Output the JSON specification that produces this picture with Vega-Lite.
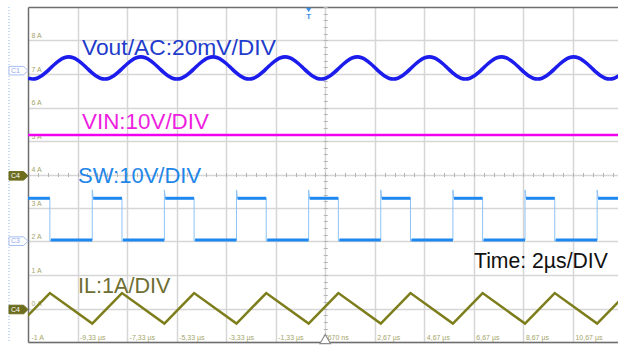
{
  "$schema": "https://vega.github.io/schema/vega-lite/v6.json",
  "width": 590,
  "height": 335,
  "autosize": "none",
  "padding": {"left": 28, "top": 7, "right": 0, "bottom": 3},
  "background": "#ffffff",
  "config": {"view": {"stroke": null}, "font": "Liberation Sans", "axis": {"title": null}},
  "datasets": {
    "vout": [
      {"t": -11.324, "v": 6.875}, {"t": -11.142, "v": 6.85}, {"t": -10.96, "v": 6.875}, {"t": -10.778, "v": 6.947},
      {"t": -10.596, "v": 7.054}, {"t": -10.414, "v": 7.18}, {"t": -10.232, "v": 7.306}, {"t": -10.05, "v": 7.413},
      {"t": -9.868, "v": 7.485}, {"t": -9.686, "v": 7.51}, {"t": -9.504, "v": 7.485}, {"t": -9.322, "v": 7.413},
      {"t": -9.14, "v": 7.306}, {"t": -8.958, "v": 7.18}, {"t": -8.776, "v": 7.054}, {"t": -8.594, "v": 6.947},
      {"t": -8.412, "v": 6.875}, {"t": -8.23, "v": 6.85}, {"t": -8.048, "v": 6.875}, {"t": -7.866, "v": 6.947},
      {"t": -7.684, "v": 7.054}, {"t": -7.502, "v": 7.18}, {"t": -7.32, "v": 7.306}, {"t": -7.138, "v": 7.413},
      {"t": -6.956, "v": 7.485}, {"t": -6.774, "v": 7.51}, {"t": -6.592, "v": 7.485}, {"t": -6.41, "v": 7.413},
      {"t": -6.228, "v": 7.306}, {"t": -6.046, "v": 7.18}, {"t": -5.864, "v": 7.054}, {"t": -5.682, "v": 6.947},
      {"t": -5.5, "v": 6.875}, {"t": -5.318, "v": 6.85}, {"t": -5.136, "v": 6.875}, {"t": -4.954, "v": 6.947},
      {"t": -4.772, "v": 7.054}, {"t": -4.59, "v": 7.18}, {"t": -4.408, "v": 7.306}, {"t": -4.226, "v": 7.413},
      {"t": -4.044, "v": 7.485}, {"t": -3.862, "v": 7.51}, {"t": -3.68, "v": 7.485}, {"t": -3.498, "v": 7.413},
      {"t": -3.316, "v": 7.306}, {"t": -3.134, "v": 7.18}, {"t": -2.952, "v": 7.054}, {"t": -2.77, "v": 6.947},
      {"t": -2.588, "v": 6.875}, {"t": -2.406, "v": 6.85}, {"t": -2.224, "v": 6.875}, {"t": -2.042, "v": 6.947},
      {"t": -1.86, "v": 7.054}, {"t": -1.678, "v": 7.18}, {"t": -1.496, "v": 7.306}, {"t": -1.314, "v": 7.413},
      {"t": -1.132, "v": 7.485}, {"t": -0.95, "v": 7.51}, {"t": -0.768, "v": 7.485}, {"t": -0.586, "v": 7.413},
      {"t": -0.404, "v": 7.306}, {"t": -0.222, "v": 7.18}, {"t": -0.04, "v": 7.054}, {"t": 0.142, "v": 6.947},
      {"t": 0.324, "v": 6.875}, {"t": 0.506, "v": 6.85}, {"t": 0.688, "v": 6.875}, {"t": 0.87, "v": 6.947},
      {"t": 1.052, "v": 7.054}, {"t": 1.234, "v": 7.18}, {"t": 1.416, "v": 7.306}, {"t": 1.598, "v": 7.413},
      {"t": 1.78, "v": 7.485}, {"t": 1.962, "v": 7.51}, {"t": 2.144, "v": 7.485}, {"t": 2.326, "v": 7.413},
      {"t": 2.508, "v": 7.306}, {"t": 2.69, "v": 7.18}, {"t": 2.872, "v": 7.054}, {"t": 3.054, "v": 6.947},
      {"t": 3.236, "v": 6.875}, {"t": 3.418, "v": 6.85}, {"t": 3.6, "v": 6.875}, {"t": 3.782, "v": 6.947},
      {"t": 3.964, "v": 7.054}, {"t": 4.146, "v": 7.18}, {"t": 4.328, "v": 7.306}, {"t": 4.51, "v": 7.413},
      {"t": 4.692, "v": 7.485}, {"t": 4.874, "v": 7.51}, {"t": 5.056, "v": 7.485}, {"t": 5.238, "v": 7.413},
      {"t": 5.42, "v": 7.306}, {"t": 5.602, "v": 7.18}, {"t": 5.784, "v": 7.054}, {"t": 5.966, "v": 6.947},
      {"t": 6.148, "v": 6.875}, {"t": 6.33, "v": 6.85}, {"t": 6.512, "v": 6.875}, {"t": 6.694, "v": 6.947},
      {"t": 6.876, "v": 7.054}, {"t": 7.058, "v": 7.18}, {"t": 7.24, "v": 7.306}, {"t": 7.422, "v": 7.413},
      {"t": 7.604, "v": 7.485}, {"t": 7.786, "v": 7.51}, {"t": 7.968, "v": 7.485}, {"t": 8.15, "v": 7.413},
      {"t": 8.332, "v": 7.306}, {"t": 8.514, "v": 7.18}, {"t": 8.696, "v": 7.054}, {"t": 8.878, "v": 6.947},
      {"t": 9.06, "v": 6.875}, {"t": 9.242, "v": 6.85}, {"t": 9.424, "v": 6.875}, {"t": 9.606, "v": 6.947},
      {"t": 9.788, "v": 7.054}, {"t": 9.97, "v": 7.18}, {"t": 10.152, "v": 7.306}, {"t": 10.334, "v": 7.413},
      {"t": 10.516, "v": 7.485}, {"t": 10.698, "v": 7.51}, {"t": 10.88, "v": 7.485}, {"t": 11.062, "v": 7.413},
      {"t": 11.244, "v": 7.306}, {"t": 11.426, "v": 7.18}, {"t": 11.608, "v": 7.054}, {"t": 11.79, "v": 6.947},
      {"t": 11.972, "v": 6.875}, {"t": 12.154, "v": 6.85}, {"t": 12.336, "v": 6.875}, {"t": 12.518, "v": 6.947}
    ],
    "vin": [
      {"t": -11.33, "v": 5.18}, {"t": 12.49, "v": 5.18}
    ],
    "il": [
      {"t": -11.648, "v": -0.45}, {"t": -10.448, "v": 0.46}, {"t": -8.736, "v": -0.45}, {"t": -7.536, "v": 0.46},
      {"t": -5.824, "v": -0.45}, {"t": -4.624, "v": 0.46}, {"t": -2.912, "v": -0.45}, {"t": -1.712, "v": 0.46},
      {"t": 0, "v": -0.45}, {"t": 1.2, "v": 0.46}, {"t": 2.912, "v": -0.45}, {"t": 4.112, "v": 0.46},
      {"t": 5.824, "v": -0.45}, {"t": 7.024, "v": 0.46}, {"t": 8.736, "v": -0.45}, {"t": 9.936, "v": 0.46},
      {"t": 11.648, "v": -0.45}, {"t": 12.848, "v": 0.46}
    ],
    "sw_edges": [
      {"t": -11.648, "v": 2.045}, {"t": -11.648, "v": 3.54}, {"t": -11.608, "v": 3.29}, {"t": -10.448, "v": 3.29},
      {"t": -10.448, "v": 2.0}, {"t": -10.408, "v": 2.045}, {"t": -8.736, "v": 2.045}, {"t": -8.736, "v": 3.54},
      {"t": -8.696, "v": 3.29}, {"t": -7.536, "v": 3.29}, {"t": -7.536, "v": 2.0}, {"t": -7.496, "v": 2.045},
      {"t": -5.824, "v": 2.045}, {"t": -5.824, "v": 3.54}, {"t": -5.784, "v": 3.29}, {"t": -4.624, "v": 3.29},
      {"t": -4.624, "v": 2.0}, {"t": -4.584, "v": 2.045}, {"t": -2.912, "v": 2.045}, {"t": -2.912, "v": 3.54},
      {"t": -2.872, "v": 3.29}, {"t": -1.712, "v": 3.29}, {"t": -1.712, "v": 2.0}, {"t": -1.672, "v": 2.045},
      {"t": 0, "v": 2.045}, {"t": 0, "v": 3.54}, {"t": 0.04, "v": 3.29}, {"t": 1.2, "v": 3.29},
      {"t": 1.2, "v": 2.0}, {"t": 1.24, "v": 2.045}, {"t": 2.912, "v": 2.045}, {"t": 2.912, "v": 3.54},
      {"t": 2.952, "v": 3.29}, {"t": 4.112, "v": 3.29}, {"t": 4.112, "v": 2.0}, {"t": 4.152, "v": 2.045},
      {"t": 5.824, "v": 2.045}, {"t": 5.824, "v": 3.54}, {"t": 5.864, "v": 3.29}, {"t": 7.024, "v": 3.29},
      {"t": 7.024, "v": 2.0}, {"t": 7.064, "v": 2.045}, {"t": 8.736, "v": 2.045}, {"t": 8.736, "v": 3.54},
      {"t": 8.776, "v": 3.29}, {"t": 9.936, "v": 3.29}, {"t": 9.936, "v": 2.0}, {"t": 9.976, "v": 2.045},
      {"t": 11.648, "v": 2.045}, {"t": 11.648, "v": 3.54}, {"t": 11.688, "v": 3.29}, {"t": 12.848, "v": 3.29}
    ],
    "sw_levels": [
      {"t0": -11.608, "t1": -10.448, "v": 3.29}, {"t0": -8.696, "t1": -7.536, "v": 3.29},
      {"t0": -5.784, "t1": -4.624, "v": 3.29}, {"t0": -2.872, "t1": -1.712, "v": 3.29},
      {"t0": 0.04, "t1": 1.2, "v": 3.29}, {"t0": 2.952, "t1": 4.112, "v": 3.29},
      {"t0": 5.864, "t1": 7.024, "v": 3.29}, {"t0": 8.776, "t1": 9.936, "v": 3.29},
      {"t0": 11.688, "t1": 12.848, "v": 3.29},
      {"t0": -10.408, "t1": -8.736, "v": 2.045}, {"t0": -7.496, "t1": -5.824, "v": 2.045},
      {"t0": -4.584, "t1": -2.912, "v": 2.045}, {"t0": -1.672, "t1": 0, "v": 2.045},
      {"t0": 1.24, "t1": 2.912, "v": 2.045}, {"t0": 4.152, "t1": 5.824, "v": 2.045},
      {"t0": 7.064, "t1": 8.736, "v": 2.045}, {"t0": 9.976, "t1": 11.648, "v": 2.045}
    ],
    "labels": [
      {"series": "Vout", "label": "Vout/AC:20mV/DIV", "t": -9.15, "v": 7.567},
      {"series": "VIN", "label": "VIN:10V/DIV", "t": -9.15, "v": 5.358},
      {"series": "SW", "label": "SW:10V/DIV", "t": -9.31, "v": 3.746},
      {"series": "IL", "label": "IL:1A/DIV", "t": -9.31, "v": 0.463},
      {"series": "Time", "label": "Time: 2µs/DIV", "t": 6.676, "v": 1.209}
    ],
    "channels": [
      {"ch": "C1", "t": -11.714, "v": 7.1},
      {"ch": "C4", "t": -11.714, "v": 3.96},
      {"ch": "C3", "t": -11.714, "v": 2.01},
      {"ch": "C4", "t": -11.714, "v": -0.03}
    ],
    "trigger": [
      {"t": 0, "v": 8.91, "label": "T", "tv": 8.7}
    ],
    "hpos": [
      {"t": 0.67, "v": -0.91}
    ],
    "probe": [
      {"t": -12.097}
    ]
  },
  "resolve": {"axis": {"x": "independent", "y": "independent"}},
  "layer": [
    {
      "data": {"name": "vout"},
      "mark": {"type": "line", "color": "#1c1cec", "strokeWidth": 3.6, "clip": true, "interpolate": "monotone"},
      "encoding": {
        "x": {
          "field": "t", "type": "quantitative",
          "scale": {"domain": [-11.33, 12.49], "nice": false, "zero": false},
          "axis": {
            "orient": "bottom",
            "values": [-9.33, -7.33, -5.33, -3.33, -1.33, 0.67, 2.67, 4.67, 6.67, 8.67, 10.67],
            "grid": true, "gridColor": "#d6d6d6", "gridWidth": 1.5,
            "domain": true, "domainColor": "#6e6e6e", "domainWidth": 1.5,
            "ticks": false, "tickSize": 0,
            "labelExpr": "datum.value == 0.67 ? '670 ns' : replace(replace(format(datum.value, '.2f'), '.', ','), '−', '-') + ' µs'",
            "labelAlign": "left", "labelBaseline": "bottom", "labelPadding": -2, "labelOffset": 2,
            "labelFontSize": 7, "labelColor": "#a5a56a", "labelFlush": false, "labelOverlap": false
          }
        },
        "y": {
          "field": "v", "type": "quantitative",
          "scale": {"domain": [-1, 9], "nice": false, "zero": false},
          "axis": {
            "orient": "left",
            "values": [-1, 0, 1, 2, 3, 4, 5, 6, 7, 8],
            "grid": true, "gridColor": "#d6d6d6", "gridWidth": 1.5,
            "domain": true, "domainColor": "#6e6e6e", "domainWidth": 1.5,
            "ticks": false, "tickSize": 0,
            "labelExpr": "datum.value + ' A'",
            "labelAlign": "left", "labelBaseline": "bottom", "labelPadding": -3, "labelOffset": -2,
            "labelFontSize": 7, "labelColor": "#a5a56a", "labelFlush": false, "labelOverlap": false
          }
        }
      }
    },
    {
      "data": {"name": "vin"},
      "mark": {"type": "line", "color": "#f000ee", "strokeWidth": 2.5, "clip": true},
      "encoding": {
        "x": {
          "field": "t", "type": "quantitative",
          "scale": {"domain": [-11.33, 12.49], "nice": false, "zero": false},
          "axis": {"orient": "top", "domain": true, "domainColor": "#6e6e6e", "domainWidth": 1.5, "ticks": false, "labels": false, "grid": false}
        },
        "y": {"field": "v", "type": "quantitative", "scale": {"domain": [-1, 9], "nice": false, "zero": false}, "axis": null}
      }
    },
    {
      "data": {"name": "il"},
      "mark": {"type": "line", "color": "#7d7d1c", "strokeWidth": 2.5, "clip": true},
      "encoding": {
        "x": {
          "field": "t", "type": "quantitative",
          "scale": {"domain": [-11.33, 12.49], "nice": false, "zero": false},
          "axis": {
            "orient": "top", "offset": -169.5,
            "values": [-10.93, -10.53, -10.13, -9.73, -9.33, -8.93, -8.53, -8.13, -7.73, -7.33, -6.93, -6.53, -6.13, -5.73, -5.33, -4.93, -4.53, -4.13, -3.73, -3.33, -2.93, -2.53, -2.13, -1.73, -1.33, -0.93, -0.53, -0.13, 0.27, 0.67, 1.07, 1.47, 1.87, 2.27, 2.67, 3.07, 3.47, 3.87, 4.27, 4.67, 5.07, 5.47, 5.87, 6.27, 6.67, 7.07, 7.47, 7.87, 8.27, 8.67, 9.07, 9.47, 9.87, 10.27, 10.67, 11.07, 11.47, 11.87, 12.27],
            "ticks": true, "tickSize": 4, "tickColor": "#b4b4b4", "tickWidth": 1,
            "domain": false, "labels": false, "grid": false
          }
        },
        "y": {
          "field": "v", "type": "quantitative",
          "scale": {"domain": [-1, 9], "nice": false, "zero": false},
          "axis": {
            "orient": "right", "offset": -294.76, "tickCount": 50,
            "ticks": true, "tickSize": 4, "tickColor": "#b4b4b4", "tickWidth": 1,
            "domain": false, "labels": false, "grid": false
          }
        }
      }
    },
    {
      "data": {"name": "sw_edges"},
      "mark": {"type": "line", "color": "#8ec3f5", "strokeWidth": 1, "clip": true},
      "encoding": {
        "x": {"field": "t", "type": "quantitative", "scale": {"domain": [-11.33, 12.49], "nice": false, "zero": false}, "axis": null},
        "y": {"field": "v", "type": "quantitative", "scale": {"domain": [-1, 9], "nice": false, "zero": false}, "axis": null},
        "order": {"value": null}
      }
    },
    {
      "data": {"name": "sw_levels"},
      "mark": {"type": "rule", "color": "#1e88f0", "strokeWidth": 3, "clip": true},
      "encoding": {
        "x": {"field": "t0", "type": "quantitative", "scale": {"domain": [-11.33, 12.49], "nice": false, "zero": false}, "axis": null},
        "x2": {"field": "t1"},
        "y": {"field": "v", "type": "quantitative", "scale": {"domain": [-1, 9], "nice": false, "zero": false}, "axis": null}
      }
    },
    {
      "data": {"name": "labels"},
      "mark": {"type": "text", "align": "left", "baseline": "alphabetic"},
      "encoding": {
        "x": {"field": "t", "type": "quantitative", "scale": {"domain": [-11.33, 12.49], "nice": false, "zero": false}, "axis": null},
        "y": {"field": "v", "type": "quantitative", "scale": {"domain": [-1, 9], "nice": false, "zero": false}, "axis": null},
        "text": {"field": "label"},
        "size": {
          "field": "series", "type": "nominal", "legend": null,
          "scale": {"domain": ["Vout", "VIN", "SW", "IL", "Time"], "range": [22.8, 21.2, 21, 21, 21]}
        },
        "color": {
          "field": "series", "type": "nominal", "legend": null,
          "scale": {"domain": ["Vout", "VIN", "SW", "IL", "Time"], "range": ["#1f3ccc", "#ee1ee0", "#1f86e8", "#6e6e33", "#111111"]}
        }
      }
    },
    {
      "data": {"name": "probe"},
      "mark": {"type": "rule", "color": "#8fb6ea", "strokeDash": [1, 2], "strokeWidth": 1, "clip": false},
      "encoding": {
        "x": {"field": "t", "type": "quantitative", "scale": {"domain": [-11.33, 12.49], "nice": false, "zero": false}, "axis": null}
      }
    },
    {
      "data": {"name": "channels"},
      "transform": [{"filter": "datum.ch != 'C4'"}],
      "mark": {"type": "point", "shape": "M-1,-0.45 L0.55,-0.45 L1,0 L0.55,0.45 L-1,0.45 Z", "size": 361, "filled": true, "fill": "#ffffff", "stroke": "#a6bcf0", "strokeWidth": 1, "opacity": 1, "clip": false},
      "encoding": {
        "x": {"field": "t", "type": "quantitative", "scale": {"domain": [-11.33, 12.49], "nice": false, "zero": false}, "axis": null},
        "y": {"field": "v", "type": "quantitative", "scale": {"domain": [-1, 9], "nice": false, "zero": false}, "axis": null}
      }
    },
    {
      "data": {"name": "channels"},
      "transform": [{"filter": "datum.ch == 'C4'"}],
      "mark": {"type": "point", "shape": "M-1,-0.45 L0.55,-0.45 L1,0 L0.55,0.45 L-1,0.45 Z", "size": 361, "filled": true, "fill": "#6d6d1f", "stroke": "#6d6d1f", "strokeWidth": 1, "opacity": 1, "clip": false},
      "encoding": {
        "x": {"field": "t", "type": "quantitative", "scale": {"domain": [-11.33, 12.49], "nice": false, "zero": false}, "axis": null},
        "y": {"field": "v", "type": "quantitative", "scale": {"domain": [-1, 9], "nice": false, "zero": false}, "axis": null}
      }
    },
    {
      "data": {"name": "channels"},
      "mark": {"type": "text", "fontSize": 7, "align": "center", "baseline": "middle", "dx": -3, "clip": false},
      "encoding": {
        "x": {"field": "t", "type": "quantitative", "scale": {"domain": [-11.33, 12.49], "nice": false, "zero": false}, "axis": null},
        "y": {"field": "v", "type": "quantitative", "scale": {"domain": [-1, 9], "nice": false, "zero": false}, "axis": null},
        "text": {"field": "ch"},
        "color": {"condition": {"test": "datum.ch == 'C4'", "value": "#ffffff"}, "value": "#8fa6ec"}
      }
    },
    {
      "data": {"name": "trigger"},
      "mark": {"type": "point", "shape": "triangle-down", "size": 28, "filled": true, "color": "#3a8ee8", "opacity": 1, "clip": false},
      "encoding": {
        "x": {"field": "t", "type": "quantitative", "scale": {"domain": [-11.33, 12.49], "nice": false, "zero": false}, "axis": null},
        "y": {"field": "v", "type": "quantitative", "scale": {"domain": [-1, 9], "nice": false, "zero": false}, "axis": null}
      }
    },
    {
      "data": {"name": "trigger"},
      "mark": {"type": "text", "fontSize": 8, "fontWeight": "bold", "color": "#3a8ee8", "align": "center", "baseline": "middle", "clip": false},
      "encoding": {
        "x": {"field": "t", "type": "quantitative", "scale": {"domain": [-11.33, 12.49], "nice": false, "zero": false}, "axis": null},
        "y": {"field": "tv", "type": "quantitative", "scale": {"domain": [-1, 9], "nice": false, "zero": false}, "axis": null},
        "text": {"field": "label"}
      }
    },
    {
      "data": {"name": "hpos"},
      "mark": {"type": "point", "shape": "triangle-up", "size": 110, "filled": true, "fill": "#ffffff", "stroke": "#8a8a8a", "strokeWidth": 1.2, "opacity": 1, "clip": false},
      "encoding": {
        "x": {"field": "t", "type": "quantitative", "scale": {"domain": [-11.33, 12.49], "nice": false, "zero": false}, "axis": null},
        "y": {"field": "v", "type": "quantitative", "scale": {"domain": [-1, 9], "nice": false, "zero": false}, "axis": null}
      }
    }
  ]
}
